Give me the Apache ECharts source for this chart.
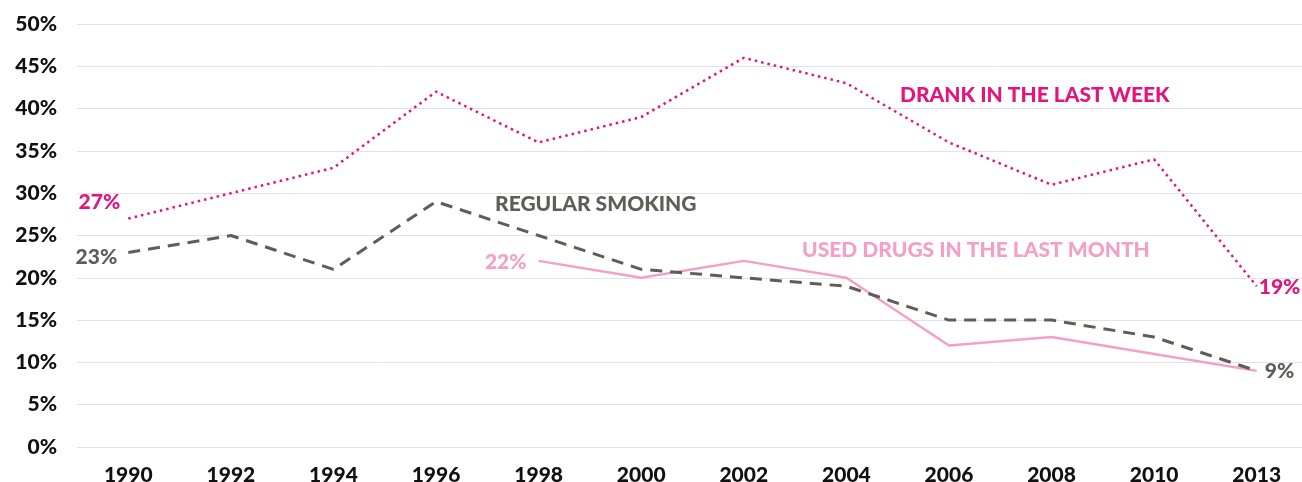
<!DOCTYPE html>
<html>
<head>
<meta charset="utf-8">
<script src="https://cdn.jsdelivr.net/npm/echarts@6/dist/echarts.min.js"></script>
<style>
  html, body { margin: 0; padding: 0; background: #fff; }
  #chart { width: 1302px; height: 482px; }
</style>
</head>
<body>
<div id="chart"></div>
<script>
// Survey years and percentages for the three behaviours
const years = ['1990', '1992', '1994', '1996', '1998', '2000', '2002', '2004', '2006', '2008', '2010', '2013'];
const drank = [27, 30, 33, 42, 36, 39, 46, 43, 36, 31, 34, 19];
const smoking = [23, 25, 21, 29, 25, 21, 20, 19, 15, 15, 13, 9];
const drugs = [null, null, null, null, 22, 20, 22, 20, 12, 13, 11, 9];

const FONT = 'Lato';
const PINK = '#e2147d';
const GREY = '#5e5e57';
const LIGHT = '#f2a0c8';

// Attach a value label to selected points (first / last of each line)
function withLabels(values, color, marks) {
  return values.map((v, i) => {
    if (v === null || !(i in marks)) return v;
    return {
      value: v,
      label: {
        show: true,
        position: marks[i].pos,
        distance: 5,
        offset: marks[i].offset || [0, 0],
        formatter: '{c}%',
        color: color,
        fontFamily: FONT,
        fontWeight: 900,
        fontSize: 21
      }
    };
  });
}

const lineCommon = { symbol: 'circle', symbolSize: 0.01, showSymbol: true, showAllSymbol: true };

const chart = echarts.init(document.getElementById('chart'));
chart.setOption({
  animation: false,
  grid: { left: 77, width: 1231, top: 24, bottom: 35, containLabel: false, outerBoundsMode: 'none' },
  xAxis: {
    type: 'category',
    data: years,
    boundaryGap: true,
    axisLine: { show: false },
    axisTick: { show: false },
    axisLabel: { color: '#111', fontFamily: FONT, fontWeight: 900, fontSize: 21, margin: 18 }
  },
  yAxis: {
    type: 'value',
    min: 0, max: 50, interval: 5,
    axisLine: { show: false },
    axisTick: { show: false },
    splitLine: { lineStyle: { color: '#e3e3e3', width: 1 } },
    axisLabel: { color: '#111', fontFamily: FONT, fontWeight: 900, fontSize: 21, margin: 20, formatter: '{value}%' }
  },
  series: [
    Object.assign({
      name: 'DRANK IN THE LAST WEEK',
      type: 'line',
      data: withLabels(drank, PINK, { 0: { pos: 'left', offset: [-3, -16] }, 11: { pos: 'right', offset: [-3, 1] } }),
      lineStyle: { color: PINK, width: 2.5, type: [2.5, 4] },
      z: 3
    }, lineCommon),
    Object.assign({
      name: 'REGULAR SMOKING',
      type: 'line',
      data: withLabels(smoking, GREY, { 0: { pos: 'left', offset: [-6, 5] }, 11: { pos: 'right', offset: [3, 0] } }),
      lineStyle: { color: GREY, width: 3, type: [12, 8] },
      z: 2
    }, lineCommon),
    Object.assign({
      name: 'USED DRUGS IN THE LAST MONTH',
      type: 'line',
      data: withLabels(drugs, LIGHT, { 4: { pos: 'left', offset: [-7, 1] } }),
      connectNulls: false,
      lineStyle: { color: LIGHT, width: 2.5 },
      z: 1
    }, lineCommon)
  ],
  graphic: [
    { type: 'text', left: 900, top: 85, style: { text: 'DRANK IN THE LAST WEEK', fill: PINK, font: '900 21px Lato' } },
    { type: 'text', left: 495, top: 194, style: { text: 'REGULAR SMOKING', fill: GREY, font: '900 21px Lato' } },
    { type: 'text', left: 802, top: 240, style: { text: 'USED DRUGS IN THE LAST MONTH', fill: LIGHT, font: '900 21px Lato' } }
  ]
});
</script>
</body>
</html>
